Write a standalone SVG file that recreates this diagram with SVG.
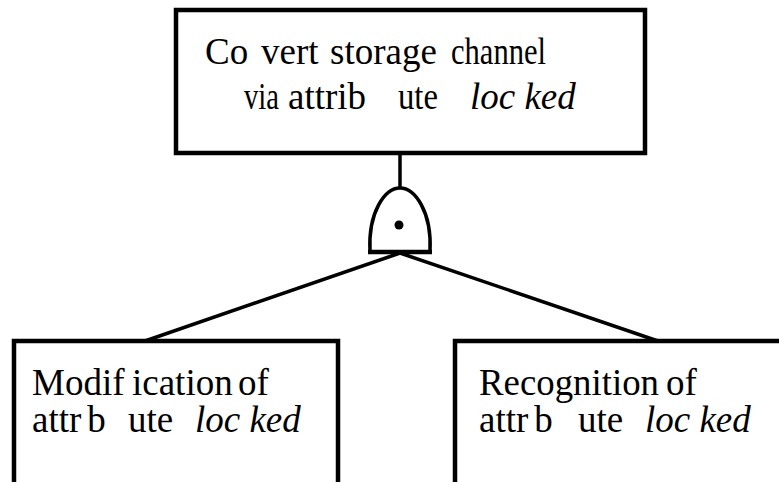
<svg xmlns="http://www.w3.org/2000/svg" width="779" height="482" viewBox="0 0 779 482">
<style>
.box{fill:#fff;stroke:#000;stroke-width:4.5}
.ln{fill:none;stroke:#000;stroke-width:3.5}
.t{font-family:"Liberation Serif","Times New Roman",serif;font-size:37px;fill:#000}
.i{font-style:italic}
</style>
<rect width="779" height="482" fill="#fff"/>
<g id="connectors">
<line class="ln" x1="400" y1="155" x2="400" y2="188"/>
<line class="ln" x1="400" y1="253" x2="145" y2="341"/>
<line class="ln" x1="400" y1="253" x2="658" y2="341"/>
</g>
<g id="top">
<rect class="box" x="176" y="10" width="469" height="143"/>
<text class="t" x="205" y="64">Co</text>
<text class="t" x="261" y="64">vert</text>
<text class="t" x="330" y="64">storage</text>
<text class="t" x="451" y="64" textLength="95" lengthAdjust="spacingAndGlyphs">channel</text>
<text class="t" x="244" y="109" textLength="35" lengthAdjust="spacingAndGlyphs">via</text>
<text class="t" x="288" y="109">attrib</text>
<text class="t" x="398" y="109" textLength="40" lengthAdjust="spacingAndGlyphs">ute</text>
<text class="t i" x="470" y="109">loc ked</text>
</g>
<g id="gate">
<path class="ln" d="M370,251 C368,212 385,188 400,188 C415,188 432,212 430,251"/>
<line x1="368" y1="252" x2="432" y2="252" stroke="#000" stroke-width="4.5"/>
<circle cx="399" cy="225" r="4.5" fill="#000"/>
</g>
<g id="left">
<rect class="box" x="14" y="341" width="324" height="160"/>
<text class="t" x="32" y="395">Modif</text>
<text class="t" x="132" y="395">ication</text>
<text class="t" x="238" y="395">of</text>
<text class="t" x="32" y="432">attr<tspan dx="6">b</tspan></text>
<text class="t" x="128" y="432">ute</text>
<text class="t i" x="195" y="432">loc ked</text>
</g>
<g id="right">
<rect class="box" x="455" y="341" width="340" height="160"/>
<text class="t" x="479" y="395" textLength="180" lengthAdjust="spacingAndGlyphs">Recognition</text>
<text class="t" x="666" y="395">of</text>
<text class="t" x="479" y="432">attr<tspan dx="6">b</tspan></text>
<text class="t" x="578" y="432">ute</text>
<text class="t i" x="645" y="432">loc ked</text>
</g>
</svg>
